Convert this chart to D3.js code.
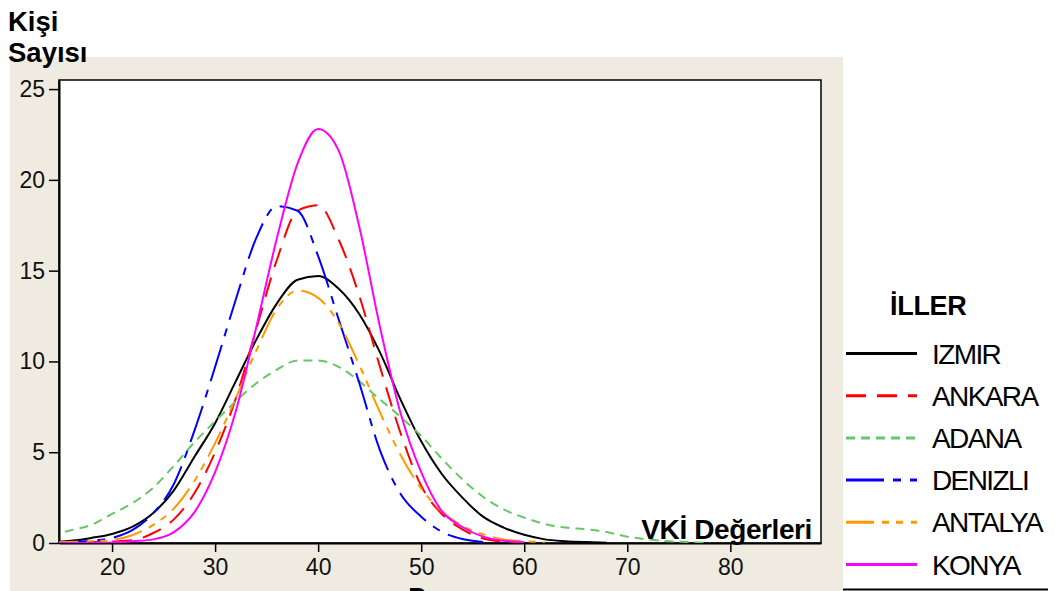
<!DOCTYPE html>
<html>
<head>
<meta charset="utf-8">
<script src="https://cdn.jsdelivr.net/npm/d3@7"></script>
<style>
  body { margin: 0; background: #fff; }
  svg { display: block; font-family: 'Liberation Sans', Arial, sans-serif; }
</style>
</head>
<body>
<svg class="density-chart" width="1055" height="591"></svg>
<script>
// VKİ grid (x) and the estimated number of people per province (y)
const vki = [14, 16, 18, 20, 22, 24, 26, 28, 30, 32, 34, 36, 38, 40, 42, 44, 46,
  48, 50, 52, 54, 56, 58, 60, 62, 64, 66, 68, 70, 72, 74, 76, 78];

const izmir = [0.03, 0.12, 0.28, 0.5, 0.9, 1.65, 2.9, 4.75, 6.6, 8.9, 11.2, 13.2, 14.5, 14.7, 14.0, 12.6, 10.5,
  7.9, 5.6, 3.8, 2.5, 1.45, 0.85, 0.45, 0.2, 0.1, 0.05, 0.02, null, null, null, null, null];
const ankara = [0, 0.02, 0.05, 0.08, 0.15, 0.55, 1.3, 2.75, 5.0, 7.95, 11.8, 15.6, 18.3, 18.6, 16.7, 13.6, 9.7,
  6.05, 3.15, 1.6, 0.75, 0.25, 0.08, 0.02, null, null, null, null, null, null, null, null, null];
const adana = [0.45, 0.7, 1.0, 1.6, 2.2, 3.05, 4.25, 5.55, 6.7, 7.8, 8.8, 9.55, 10.05, 10.05, 9.7, 8.9, 7.9,
  6.95, 5.9, 4.65, 3.5, 2.55, 1.85, 1.4, 1.05, 0.85, 0.75, 0.6, 0.35, 0.2, 0.1, 0.05, 0];
const denizli = [0.02, 0.06, 0.12, 0.28, 0.72, 1.65, 3.25, 6.2, 9.7, 13.4, 16.8, 18.55, 18.3, 15.8, 12.3, 8.8, 5.1,
  2.7, 1.45, 0.62, 0.22, 0.05, null, null, null, null, null, null, null, null, null, null, null];
const antalya = [0.03, 0.06, 0.1, 0.17, 0.44, 1.0, 1.9, 3.43, 5.5, 7.98, 10.6, 12.9, 13.9, 13.5, 12.1, 9.8, 7.2,
  4.85, 3.0, 1.73, 0.94, 0.48, 0.2, 0.1, 0.04, null, null, null, null, null, null, null, null];
const konya = [0, 0, 0.01, 0.03, 0.1, 0.2, 0.6, 1.7, 3.9, 7.24, 11.9, 16.8, 20.9, 22.8, 21.6, 17.4, 11.9,
  7.15, 3.9, 1.75, 0.88, 0.35, 0.12, 0.04, null, null, null, null, null, null, null, null, null];

const iller = ['IZMIR', 'ANKARA', 'ADANA', 'DENIZLI', 'ANTALYA', 'KONYA'];
const xTicks = [20, 30, 40, 50, 60, 70, 80];
const yTicks = [0, 5, 10, 15, 20, 25];

const seriesValues = [izmir, ankara, adana, denizli, antalya, konya];
const colors = ['#000000', '#ff0000', '#66c766', '#0000ff', '#ff9900', '#ff00ff'];
const dashes = ['none', '20,11', '9,6', '38,9,8,9', '28,8,7,7,7,8', 'none'];

const svg = d3.select('svg.density-chart');
const plot = { left: 59, right: 821, top: 80, bottom: 543 };

// beige panel behind the plot
svg.append('rect')
  .attr('x', 10).attr('y', 57)
  .attr('width', 833).attr('height', 534)
  .attr('fill', '#efebe1');

svg.append('rect')
  .attr('x', plot.left).attr('y', plot.top)
  .attr('width', plot.right - plot.left).attr('height', plot.bottom - plot.top)
  .attr('fill', '#fff')
  .attr('stroke', '#000')
  .attr('stroke-width', 1.5);

const x = d3.scaleLinear().domain([14.85, 88.8]).range([plot.left, plot.right]);
const y = d3.scaleLinear().domain([0, 25.5]).range([plot.bottom, plot.top]);

svg.append('clipPath').attr('id', 'plot-clip')
  .append('rect')
  .attr('x', plot.left).attr('y', plot.top - 2)
  .attr('width', plot.right - plot.left).attr('height', plot.bottom - plot.top + 2);

// axes
const yAxis = svg.append('g')
  .attr('transform', 'translate(' + plot.left + ',0)')
  .call(d3.axisLeft(y).tickValues(yTicks).tickSize(10).tickSizeOuter(0).tickPadding(4));

const xAxis = svg.append('g')
  .attr('transform', 'translate(0,' + plot.bottom + ')')
  .call(d3.axisBottom(x).tickValues(xTicks).tickSize(9).tickSizeOuter(0).tickPadding(7));

[xAxis, yAxis].forEach((g) => {
  g.select('.domain').attr('stroke', '#000').attr('stroke-width', 2);
  g.selectAll('.tick line').attr('stroke', '#000').attr('stroke-width', 1.5);
  g.selectAll('.tick text')
    .attr('fill', '#111')
    .style('font-size', '23px')
    .style('font-family', "'Liberation Sans', Arial, sans-serif");
});

// density curves
const line = d3.line()
  .defined((d) => d.v != null)
  .x((d) => x(d.x))
  .y((d) => y(d.v))
  .curve(d3.curveMonotoneX);

const curves = svg.append('g').attr('clip-path', 'url(#plot-clip)');
seriesValues.forEach((values, i) => {
  curves.append('path')
    .datum(vki.map((v, j) => ({ x: v, v: values[j] })))
    .attr('d', line)
    .attr('fill', 'none')
    .attr('stroke', colors[i])
    .attr('stroke-width', 2)
    .attr('stroke-dasharray', dashes[i]);
});

// titles
svg.append('text')
  .attr('x', 8).attr('y', 31)
  .attr('font-weight', 'bold').attr('font-size', 27.5)
  .text('Kişi');
svg.append('text')
  .attr('x', 8).attr('y', 62)
  .attr('font-weight', 'bold').attr('font-size', 27.5)
  .text('Sayısı');

svg.append('text')
  .attr('x', 812).attr('y', 539)
  .attr('text-anchor', 'end')
  .attr('font-weight', 'bold').attr('font-size', 28)
  .attr('letter-spacing', -0.4)
  .text('VKİ Değerleri');

// x axis title, cut by the bottom edge as in the original
svg.append('text')
  .attr('x', (plot.left + plot.right) / 2).attr('y', 606)
  .attr('text-anchor', 'middle')
  .attr('font-weight', 'bold').attr('font-size', 26)
  .text('Puan');

// legend
const legend = svg.append('g');
legend.append('text')
  .attr('x', 890).attr('y', 315)
  .attr('font-weight', 'bold').attr('font-size', 27)
  .attr('letter-spacing', -0.3)
  .text('İLLER');

iller.forEach((name, i) => {
  const ly = 353.5 + i * 42.2;
  legend.append('line')
    .attr('x1', 846).attr('x2', 917)
    .attr('y1', ly).attr('y2', ly)
    .attr('stroke', colors[i])
    .attr('stroke-width', 3)
    .attr('stroke-dasharray', dashes[i]);
  legend.append('text')
    .attr('x', 932).attr('y', ly + 10)
    .attr('font-size', 28)
    .attr('letter-spacing', -1.6)
    .text(name);
});

legend.append('line')
  .attr('x1', 843).attr('x2', 1048)
  .attr('y1', 589.5).attr('y2', 589.5)
  .attr('stroke', '#000')
  .attr('stroke-width', 2);
</script>
</body>
</html>
